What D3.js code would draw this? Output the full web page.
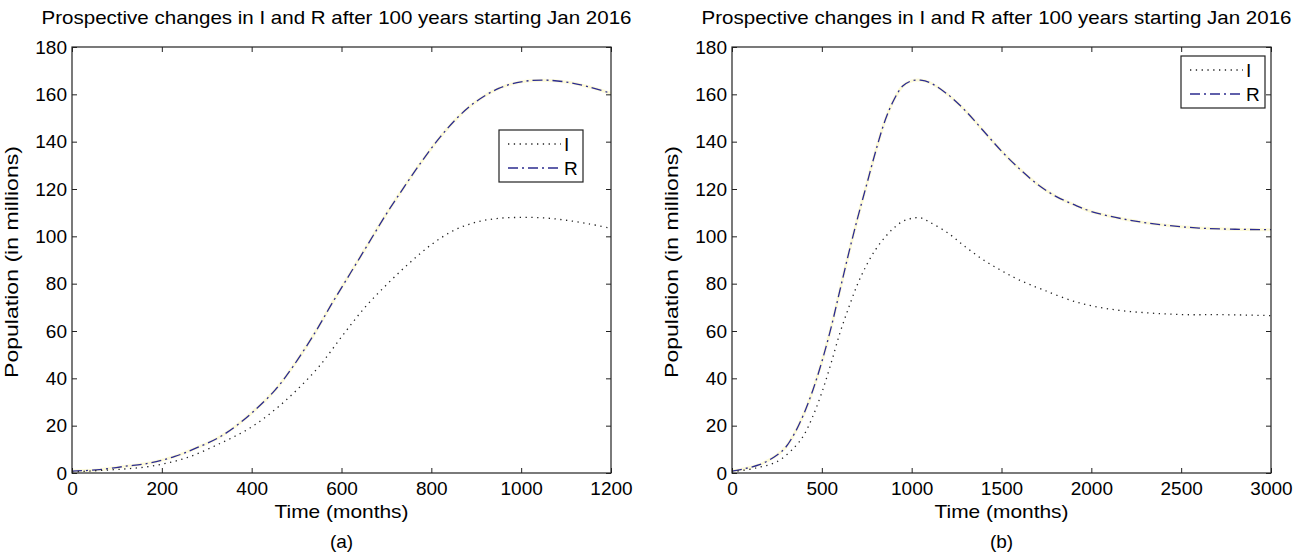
<!DOCTYPE html>
<html><head><meta charset="utf-8">
<script src="https://cdn.jsdelivr.net/npm/d3@7"></script>
<style>body{margin:0;background:#fff}svg{display:block}text{font-family:"Liberation Sans",Arial,sans-serif;fill:#000}</style>
</head><body><svg id="c" width="1301" height="557"></svg>
<script>
const titleText = "Prospective changes in I and R after 100 years starting Jan 2016";
const xLabel = "Time (months)";
const yLabel = "Population (in millions)";
const yTicks = [0,20,40,60,80,100,120,140,160,180];
const seriesNames = ["I","R"];

// Panel (a)
const aXTicks = [0,200,400,600,800,1000,1200];
const aI_t = [0,93,173,253,332,396,452,500,550,600,650,700,750,800,850,900,950,1000,1050,1100,1150,1200];
const aI_v = [0.5,1.4,2.8,6.3,12.7,19,26.8,35,45,57.5,69.5,79.5,88.5,96.5,102.5,106,107.6,108,107.8,106.8,105.3,103.3];
const aR_t = [0,61,117,173,229,277,325,364,404,452,492,540,580,620,660,700,740,780,820,860,900,950,1000,1050,1100,1150,1200];
const aR_v = [0.8,1.4,2.8,4.2,7,10.6,14.8,19.7,26,35,45,59,72,84.5,97,109.5,121,132,142,150.5,157,162.5,165.3,166,165.2,163.2,160.4];

// Panel (b)
const bXTicks = [0,500,1000,1500,2000,2500,3000];
const bI_t = [0,133,253,353,400,450,500,550,600,650,700,750,800,850,900,950,1000,1050,1100,1200,1300,1400,1500,1600,1728,1927,2127,2326,2525,2724,3000];
const bI_v = [0.5,2.1,4.9,11.3,16,24,34,46,59,70,80,88,94.5,99.5,103.5,106.3,107.6,107.8,106,101.5,95.5,90,85.5,81.5,77.5,72,69,67.6,66.9,66.9,66.5];
const bR_t = [0,153,253,300,350,400,450,500,550,600,650,700,750,800,850,900,950,1000,1050,1100,1200,1300,1400,1500,1600,1700,1800,1900,2000,2200,2400,2600,2800,3000];
const bR_v = [0.8,3.5,7.7,11,17,25,35,47,61,77,93,108,122,136,148.5,157.5,163.5,165.7,166,165,160,153,144.5,136,128.5,122,117,113.5,110.5,107,104.8,103.5,103,102.8];

const svg = d3.select("#c");
const FONT = "'Liberation Sans',Arial,sans-serif";

function panel(opts){
  const {left, right, top, bottom, xMax, xTicks, I_t, I_v, R_t, R_v, tag, legend} = opts;
  const x = d3.scaleLinear().domain([0,xMax]).range([left,right]);
  const y = d3.scaleLinear().domain([0,180]).range([bottom,top]);
  const g = svg.append("g");
  const cx = (left+right)/2;
  g.append("text").attr("x",cx-5).attr("y",24).attr("text-anchor","middle").attr("font-size",18.5)
    .attr("textLength",590).attr("lengthAdjust","spacingAndGlyphs").text(titleText);

  // lines
  const line = d3.line().x(d=>x(d[0])).y(d=>y(d[1])).curve(d3.curveCatmullRom.alpha(0.5));
  const Id = I_t.map((t,i)=>[t,I_v[i]]);
  const Rd = R_t.map((t,i)=>[t,R_v[i]]);
  g.append("path").attr("d",line(Rd)).attr("fill","none").attr("stroke","#fbf7c0").attr("stroke-width",3).attr("opacity",0.6);
  g.append("path").attr("d",line(Rd)).attr("fill","none").attr("stroke","#2b2b8f").attr("stroke-width",1.3).attr("stroke-dasharray","10,4,2,4");
  g.append("path").attr("d",line(Id)).attr("fill","none").attr("stroke","#222").attr("stroke-width",1.3).attr("stroke-dasharray","1.3,4.5");

  // axes
  const xb = g.append("g").attr("transform",`translate(0,${bottom})`)
    .call(d3.axisBottom(x).tickValues(xTicks).tickSizeInner(-5).tickSizeOuter(0).tickPadding(9).tickFormat(d3.format("d")));
  const xt = g.append("g").attr("transform",`translate(0,${top})`)
    .call(d3.axisTop(x).tickValues(xTicks).tickSizeInner(-5).tickSizeOuter(0).tickFormat(""));
  const yl = g.append("g").attr("transform",`translate(${left},0)`)
    .call(d3.axisLeft(y).tickValues(yTicks).tickSizeInner(-5).tickSizeOuter(0).tickPadding(5));
  const yr = g.append("g").attr("transform",`translate(${right},0)`)
    .call(d3.axisRight(y).tickValues(yTicks).tickSizeInner(-5).tickSizeOuter(0).tickFormat(""));
  [xb,xt,yl,yr].forEach(a=>{
    a.selectAll("path").remove();
    a.selectAll("line").attr("stroke","#222");
    a.selectAll("text").attr("font-size",19).attr("font-family",FONT).attr("fill","#000");
  });
  g.append("rect").attr("x",left).attr("y",top).attr("width",right-left).attr("height",bottom-top)
    .attr("fill","none").attr("stroke","#222").attr("stroke-width",1.2);

  g.append("text").attr("x",cx).attr("y",bottom+45).attr("text-anchor","middle").attr("font-size",19)
    .attr("textLength",134).attr("lengthAdjust","spacingAndGlyphs").text(xLabel);
  g.append("text").attr("x",cx).attr("y",bottom+75).attr("text-anchor","middle").attr("font-size",19).text(tag);
  g.append("text").attr("transform",`translate(${left-54},${(top+bottom)/2+2}) rotate(-90)`).attr("text-anchor","middle").attr("font-size",19)
    .attr("textLength",232).attr("lengthAdjust","spacingAndGlyphs").text(yLabel);

  // legend
  const lg = g.append("g").attr("transform",`translate(${legend.x},${legend.y})`);
  lg.append("rect").attr("width",84).attr("height",52).attr("fill","#fff").attr("stroke","#222").attr("stroke-width",1.2);
  const styles = [{c:"#222",d:"1.3,4.5"},{c:"#2b2b8f",d:"10,4,2,4"}];
  seriesNames.forEach((n,i)=>{
    const yy = 14 + i*24;
    lg.append("line").attr("x1",9).attr("x2",62).attr("y1",yy).attr("y2",yy)
      .attr("stroke",styles[i].c).attr("stroke-width",1.3).attr("stroke-dasharray",styles[i].d);
    lg.append("text").attr("x",65).attr("y",yy+7).attr("font-size",19).text(n);
  });
}

panel({left:72,right:611,top:47,bottom:473,xMax:1200,xTicks:aXTicks,I_t:aI_t,I_v:aI_v,R_t:aR_t,R_v:aR_v,tag:"(a)",legend:{x:499,y:130}});
panel({left:732,right:1271,top:47,bottom:473,xMax:3000,xTicks:bXTicks,I_t:bI_t,I_v:bI_v,R_t:bR_t,R_v:bR_v,tag:"(b)",legend:{x:1181,y:56}});
</script></body></html>
